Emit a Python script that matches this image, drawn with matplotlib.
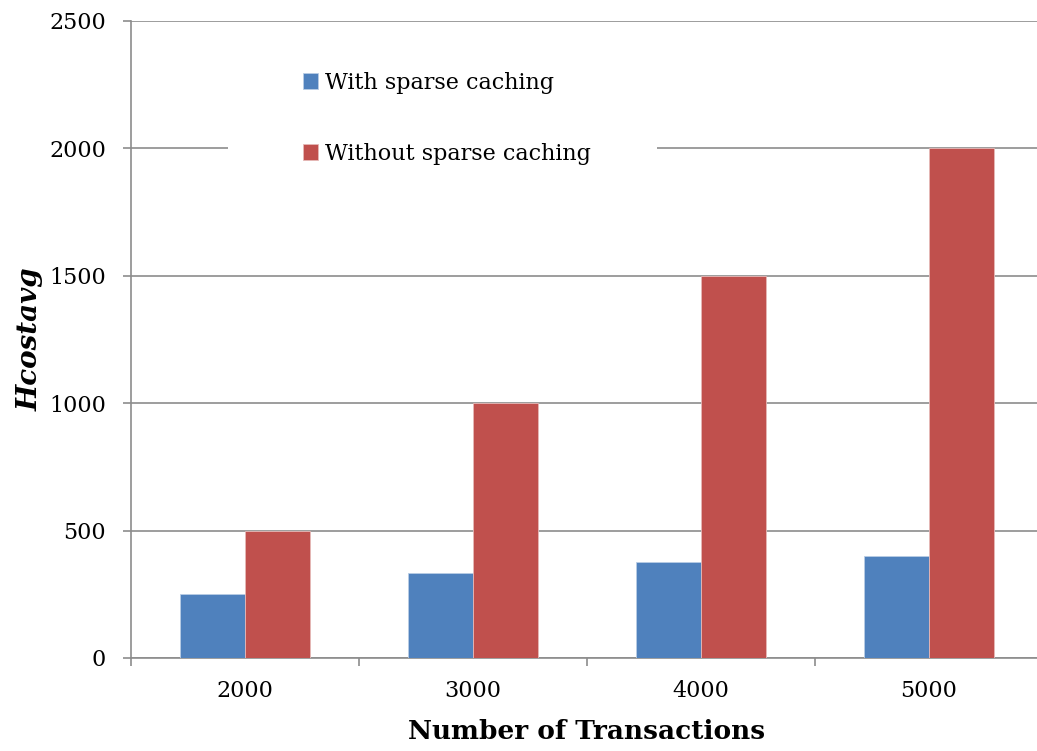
import matplotlib

matplotlib.use("Agg")
import matplotlib.pyplot as plt
import numpy as np
from matplotlib.patches import Rectangle

categories = ["2000", "3000", "4000", "5000"]
with_sparse = [250, 333, 375, 400]
without_sparse = [500, 1000, 1500, 2000]
series_labels = ["With sparse caching", "Without sparse caching"]
y_ticks = [0, 500, 1000, 1500, 2000, 2500]

BLUE = "#4F81BD"
RED = "#C0504D"
GRID = "#8c8c8c"

plt.rcParams["font.family"] = ["DejaVu Serif"]

fig = plt.figure(figsize=(10.37, 7.51), dpi=100)
ax = fig.add_axes([131 / 1037, 93 / 751, 912 / 1037, 637 / 751])

x = np.arange(len(categories))
w = 0.285
ax.bar(x - w / 2, with_sparse, w, color=BLUE, edgecolor="#b9cde5", linewidth=0.6,
       label=series_labels[0], zorder=3)
ax.bar(x + w / 2, without_sparse, w, color=RED, edgecolor="#e6b9b8", linewidth=0.6,
       label=series_labels[1], zorder=3)

ax.set_xlim(-0.5, len(categories) - 0.5)
ax.set_ylim(0, 2500)
ax.set_yticks(y_ticks)
ax.yaxis.grid(True, color=GRID, linewidth=1.2, zorder=0)
ax.set_axisbelow(True)

ax.set_xticks(x)
ax.set_xticklabels(categories)
ax.set_xticks(np.arange(len(categories) + 1) - 0.5, minor=True)
ax.tick_params(axis="x", which="major", length=0, pad=16, labelsize=16)
ax.tick_params(axis="x", which="minor", length=6, width=1.2, color=GRID, direction="out")
ax.tick_params(axis="y", length=6, width=1.2, color=GRID, pad=12, labelsize=16)

for side in ("top", "right"):
    ax.spines[side].set_visible(False)
for side in ("left", "bottom"):
    ax.spines[side].set_color(GRID)
    ax.spines[side].set_linewidth(1.2)

ax.set_xlabel("Number of Transactions", fontsize=19, fontweight="bold", labelpad=12)
ax.set_ylabel("Hcostavg", fontsize=20, fontweight="bold", fontstyle="italic", labelpad=4)

# white legend area (hides the gridline behind the legend, like Excel)
ax.add_patch(Rectangle((97 / 912, 473 / 637), 429 / 912, 140 / 637,
                       transform=ax.transAxes, facecolor="white", edgecolor="none",
                       zorder=2))

leg = ax.legend(loc="center", bbox_to_anchor=(0.346, 0.847), fontsize=16,
                frameon=False, handlelength=0.7, handleheight=0.7,
                handletextpad=0.3, labelspacing=2.2, borderpad=0.5)
leg.set_zorder(5)

fig.savefig("out.png", dpi=100)
